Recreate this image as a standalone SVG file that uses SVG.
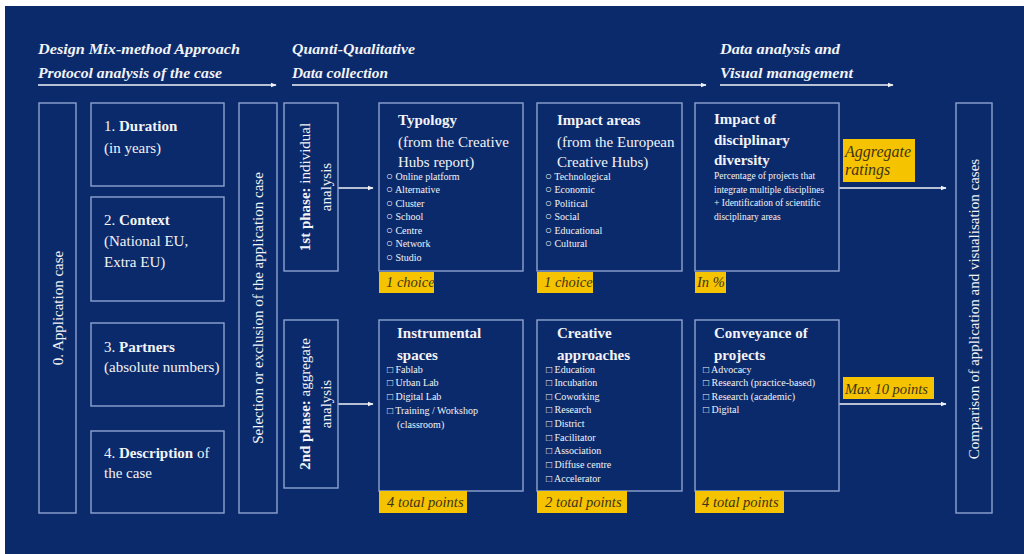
<svg xmlns="http://www.w3.org/2000/svg" width="1024" height="554" viewBox="0 0 1024 554">
<defs>
<style>
.bg{fill:#0b2a6b}
.box{fill:none;stroke:#8ea3cf;stroke-width:1.4}
.t{font-family:"Liberation Serif","Times New Roman","DejaVu Serif",serif;fill:#f2f3f7}
.h{font-size:15.5px;font-weight:bold;font-style:italic}
.b{font-size:15px}
.bold{font-weight:bold}
.s{font-size:10px}
.xs{font-size:9.5px}
.o{font-size:11.5px}
.lab{fill:#f6c300}
.lt{font-family:"Liberation Serif","Times New Roman","DejaVu Serif",serif;font-style:italic;font-size:14.5px;fill:#3d3418}
.line{stroke:#f2f3f7;stroke-width:1.4;fill:none}
</style>
<marker id="ah" viewBox="0 0 10 10" refX="9" refY="5" markerWidth="6" markerHeight="6" orient="auto" markerUnits="userSpaceOnUse">
<path d="M0,1 L10,5 L0,9 Z" fill="#f2f3f7"/>
</marker>
</defs>
<rect x="0" y="0" width="1024" height="554" fill="#ffffff"/>
<rect class="bg" x="5" y="6" width="1019" height="548"/>

<g id="headers">
<text class="t h" x="38" y="54" textLength="202" lengthAdjust="spacingAndGlyphs">Design Mix-method Approach</text>
<text class="t h" x="38" y="78" textLength="184" lengthAdjust="spacingAndGlyphs">Protocol analysis of the case</text>
<text class="t h" x="292" y="54" textLength="123" lengthAdjust="spacingAndGlyphs">Quanti-Qualitative</text>
<text class="t h" x="292" y="78" textLength="96" lengthAdjust="spacingAndGlyphs">Data collection</text>
<text class="t h" x="720" y="54" textLength="120" lengthAdjust="spacingAndGlyphs">Data analysis and</text>
<text class="t h" x="720" y="78" textLength="133" lengthAdjust="spacingAndGlyphs">Visual management</text>
</g>

<g id="connectors">
<line class="line" x1="38" y1="85" x2="276" y2="85" marker-end="url(#ah)"/>
<line class="line" x1="292" y1="85" x2="706" y2="85" marker-end="url(#ah)"/>
<line class="line" x1="720" y1="85" x2="893" y2="85" marker-end="url(#ah)"/>
<line class="line" x1="338" y1="188" x2="373" y2="188" marker-end="url(#ah)"/>
<line class="line" x1="338" y1="404" x2="373" y2="404" marker-end="url(#ah)"/>
<line class="line" x1="839" y1="188" x2="946" y2="188" marker-end="url(#ah)"/>
<line class="line" x1="839" y1="404" x2="946" y2="404" marker-end="url(#ah)"/>
</g>

<g id="application-case">
<rect class="box" x="39" y="103" width="37" height="410"/>
<text class="t b" text-anchor="middle" transform="translate(63,308) rotate(-90)">0. Application case</text>
</g>

<g id="duration">
<rect class="box" x="91" y="103" width="133" height="83"/>
<text class="t b" x="104" y="131">1. <tspan class="bold">Duration</tspan></text>
<text class="t b" x="104" y="153">(in years)</text>
</g>

<g id="context">
<rect class="box" x="91" y="197" width="133" height="104"/>
<text class="t b" x="104" y="225">2. <tspan class="bold">Context</tspan></text>
<text class="t b" x="104" y="246">(National EU,</text>
<text class="t b" x="104" y="267">Extra EU)</text>
</g>

<g id="partners">
<rect class="box" x="91" y="323" width="133" height="83"/>
<text class="t b" x="104" y="352">3. <tspan class="bold">Partners</tspan></text>
<text class="t b" x="104" y="372">(absolute numbers)</text>
</g>

<g id="description">
<rect class="box" x="91" y="431" width="133" height="82"/>
<text class="t b" x="104" y="458">4. <tspan class="bold">Description</tspan> of</text>
<text class="t b" x="104" y="478">the case</text>
</g>

<g id="selection">
<rect class="box" x="239" y="103" width="38" height="410"/>
<text class="t b" text-anchor="middle" transform="translate(263,308) rotate(-90)">Selection or exclusion of the application case</text>
</g>

<g id="phase1">
<rect class="box" x="284" y="103" width="54" height="168"/>
<text class="t b" text-anchor="middle" transform="translate(310,187) rotate(-90)"><tspan class="bold">1st phase:</tspan> individual</text>
<text class="t b" text-anchor="middle" transform="translate(331,187) rotate(-90)">analysis</text>
</g>

<g id="phase2">
<rect class="box" x="284" y="320" width="54" height="168"/>
<text class="t b" text-anchor="middle" transform="translate(310,404) rotate(-90)"><tspan class="bold">2nd phase:</tspan> aggregate</text>
<text class="t b" text-anchor="middle" transform="translate(331,404) rotate(-90)">analysis</text>
</g>

<g id="typology">
<rect class="box" x="379" y="103" width="144" height="168"/>
<text class="t b bold" x="398" y="125">Typology</text>
<text class="t b" x="398" y="147">(from the Creative</text>
<text class="t b" x="398" y="167">Hubs report)</text>
<g class="t s">
<text x="386" y="180"><tspan class="o">○</tspan> Online platform</text>
<text x="386" y="193"><tspan class="o">○</tspan> Alternative</text>
<text x="386" y="207"><tspan class="o">○</tspan> Cluster</text>
<text x="386" y="220"><tspan class="o">○</tspan> School</text>
<text x="386" y="234"><tspan class="o">○</tspan> Centre</text>
<text x="386" y="247"><tspan class="o">○</tspan> Network</text>
<text x="386" y="261"><tspan class="o">○</tspan> Studio</text>
</g>
<rect class="lab" x="379" y="272" width="55" height="21"/>
<text class="lt" x="386" y="287">1 choice</text>
</g>

<g id="impact-areas">
<rect class="box" x="537" y="103" width="145" height="168"/>
<text class="t b bold" x="557" y="125">Impact areas</text>
<text class="t b" x="557" y="147">(from the European</text>
<text class="t b" x="557" y="167">Creative Hubs)</text>
<g class="t s">
<text x="545" y="180"><tspan class="o">○</tspan> Technological</text>
<text x="545" y="193"><tspan class="o">○</tspan> Economic</text>
<text x="545" y="207"><tspan class="o">○</tspan> Political</text>
<text x="545" y="220"><tspan class="o">○</tspan> Social</text>
<text x="545" y="234"><tspan class="o">○</tspan> Educational</text>
<text x="545" y="247"><tspan class="o">○</tspan> Cultural</text>
</g>
<rect class="lab" x="537" y="272" width="56" height="21"/>
<text class="lt" x="544" y="287">1 choice</text>
</g>

<g id="disciplinary-diversity">
<rect class="box" x="695" y="103" width="144" height="168"/>
<text class="t b bold" x="714" y="124">Impact of</text>
<text class="t b bold" x="714" y="145">disciplinary</text>
<text class="t b bold" x="714" y="165">diversity</text>
<g class="t xs">
<text x="714" y="179">Percentage of projects that</text>
<text x="714" y="193">integrate multiple disciplines</text>
<text x="714" y="206">+ Identification of scientific</text>
<text x="714" y="220">disciplinary areas</text>
</g>
<rect class="lab" x="695" y="272" width="31" height="21"/>
<text class="lt" x="697" y="287">In %</text>
</g>

<g id="aggregate-ratings">
<rect class="lab" x="843" y="139" width="72" height="43"/>
<text class="lt" x="845" y="157" style="font-size:16px">Aggregate</text>
<text class="lt" x="845" y="175" style="font-size:16px">ratings</text>
</g>

<g id="instrumental-spaces">
<rect class="box" x="379" y="320" width="144" height="171"/>
<text class="t b bold" x="397" y="338">Instrumental</text>
<text class="t b bold" x="397" y="360">spaces</text>
<g class="t s">
<text x="387" y="373">□ Fablab</text>
<text x="387" y="386">□ Urban Lab</text>
<text x="387" y="400">□ Digital Lab</text>
<text x="387" y="414">□ Training / Workshop</text>
<text x="397" y="428">(classroom)</text>
</g>
<rect class="lab" x="379" y="491" width="88" height="22"/>
<text class="lt" x="387" y="507">4 total points</text>
</g>

<g id="creative-approaches">
<rect class="box" x="537" y="320" width="145" height="171"/>
<text class="t b bold" x="557" y="338">Creative</text>
<text class="t b bold" x="557" y="360">approaches</text>
<g class="t s">
<text x="546" y="373">□ Education</text>
<text x="546" y="386">□ Incubation</text>
<text x="546" y="400">□ Coworking</text>
<text x="546" y="413">□ Research</text>
<text x="546" y="427">□ District</text>
<text x="546" y="441">□ Facilitator</text>
<text x="546" y="454">□ Association</text>
<text x="546" y="468">□ Diffuse centre</text>
<text x="546" y="482">□ Accelerator</text>
</g>
<rect class="lab" x="537" y="491" width="90" height="22"/>
<text class="lt" x="545" y="507">2 total points</text>
</g>

<g id="conveyance">
<rect class="box" x="695" y="320" width="144" height="171"/>
<text class="t b bold" x="714" y="338">Conveyance of</text>
<text class="t b bold" x="714" y="360">projects</text>
<g class="t s">
<text x="703" y="373">□ Advocacy</text>
<text x="703" y="386">□ Research (practice-based)</text>
<text x="703" y="400">□ Research (academic)</text>
<text x="703" y="413">□ Digital</text>
</g>
<rect class="lab" x="695" y="491" width="89" height="22"/>
<text class="lt" x="702" y="507">4 total points</text>
</g>

<g id="max-points">
<rect class="lab" x="843" y="377" width="91" height="22"/>
<text class="lt" x="845" y="394">Max 10 points</text>
</g>

<g id="comparison">
<rect class="box" x="956" y="103" width="36" height="410"/>
<text class="t b" text-anchor="middle" transform="translate(979,309) rotate(-90)">Comparison of application and visualisation cases</text>
</g>
</svg>
